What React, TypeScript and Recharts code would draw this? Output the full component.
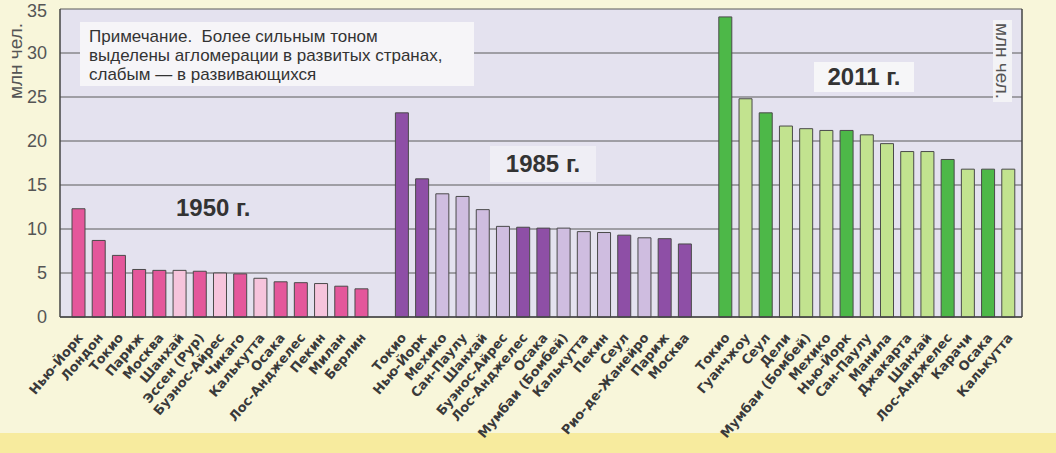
import { BarChart, Bar, XAxis, YAxis, CartesianGrid, Cell } from 'recharts';

// крупнейшие агломерации, млн чел.
const cities1950 = ['Нью-Йорк', 'Лондон', 'Токио', 'Париж', 'Москва', 'Шанхай', 'Эссен (Рур)', 'Буэнос-Айрес', 'Чикаго', 'Калькутта', 'Осака', 'Лос-Анджелес', 'Пекин', 'Милан', 'Берлин'];
const values1950 = [12.3, 8.7, 7.0, 5.4, 5.3, 5.3, 5.2, 5.0, 4.9, 4.4, 4.0, 3.9, 3.8, 3.5, 3.2];
const developed1950 = [true, true, true, true, true, false, true, false, true, false, true, true, false, true, true];

const cities1985 = ['Токио', 'Нью-Йорк', 'Мехико', 'Сан-Паулу', 'Шанхай', 'Буэнос-Айрес', 'Лос-Анджелес', 'Осака', 'Мумбаи (Бомбей)', 'Калькутта', 'Пекин', 'Сеул', 'Рио-де-Жанейро', 'Париж', 'Москва'];
const values1985 = [23.2, 15.7, 14.0, 13.7, 12.2, 10.3, 10.2, 10.1, 10.1, 9.7, 9.6, 9.3, 9.0, 8.9, 8.3];
const developed1985 = [true, true, false, false, false, false, true, true, false, false, false, true, false, true, true];

const cities2011 = ['Токио', 'Гуанчжоу', 'Сеул', 'Дели', 'Мумбаи (Бомбей)', 'Мехико', 'Нью-Йорк', 'Сан-Паулу', 'Манила', 'Джакарта', 'Шанхай', 'Лос-Анджелес', 'Карачи', 'Осака', 'Калькутта'];
const values2011 = [34.1, 24.8, 23.2, 21.7, 21.4, 21.2, 21.2, 20.7, 19.7, 18.8, 18.8, 17.9, 16.8, 16.8, 16.8];
const developed2011 = [true, false, true, false, false, false, true, false, false, false, false, true, false, true, false];

const yTicks = [0, 5, 10, 15, 20, 25, 30, 35];

const palette: Record<string, { dark: string; light: string }> = {
  '1950': { dark: '#e4579b', light: '#f6c4dc' },
  '1985': { dark: '#8e4fa6', light: '#cfbde0' },
  '2011': { dark: '#4db848', light: '#c2e38f' },
};

const groups = [
  { year: '1950', cities: cities1950, values: values1950, developed: developed1950 },
  { year: '1985', cities: cities1985, values: values1985, developed: developed1985 },
  { year: '2011', cities: cities2011, values: values2011, developed: developed2011 },
];

type Row = { id: string; name: string; value: number | null; year: string; developed: boolean };

const data: Row[] = [];
groups.forEach((g, gi) => {
  if (gi > 0) data.push({ id: `gap-${gi}`, name: '', value: null, year: '', developed: false });
  g.cities.forEach((c, i) => {
    data.push({ id: `${g.year}-${i}`, name: c, value: g.values[i], year: g.year, developed: g.developed[i] });
  });
});

const font = '"Liberation Sans", Arial, sans-serif';

const CityTick = ({ x, y, payload }: any) => {
  const row = data.find((d) => d.id === payload.value);
  if (!row || !row.name) return null;
  const tx = x + 2;
  const ty = y + 10;
  return (
    <text
      x={tx}
      y={ty}
      transform={`rotate(-50, ${tx}, ${ty})`}
      textAnchor="end"
      dy="0.35em"
      fontSize={13}
      fontWeight="bold"
      fill="#3a3a3a"
      fontFamily='"DejaVu Sans", sans-serif'
    >
      {row.name}
    </text>
  );
};

export default function App() {
  return (
    <div style={{ position: 'absolute', left: 0, top: 0, width: 1056, height: 453, background: '#f8f6da', fontFamily: font, overflow: 'hidden' }}>
      <div style={{ position: 'absolute', left: 0, top: 433, width: 1056, height: 20, background: '#f7eb9e' }} />
      <div style={{ position: 'absolute', left: 0, top: 0 }}>
        <BarChart width={1056} height={453} data={data} margin={{ top: 9, right: 0, left: 0, bottom: 0 }}>
          <CartesianGrid vertical={false} yAxisId="left" fill="#e4e2ef" stroke="#5a5a5a" strokeWidth={1} />
          <XAxis
            dataKey="id"
            interval={0}
            height={136}
            tick={<CityTick />}
            tickLine={false}
            axisLine={{ stroke: '#444', strokeWidth: 1.5 }}
            padding={{ left: 8, right: 4 }}
          />
          <YAxis
            yAxisId="left"
            width={60}
            domain={[0, 35]}
            ticks={yTicks}
            tickLine={false}
            tickMargin={7}
            axisLine={{ stroke: '#444', strokeWidth: 1.5 }}
            tick={{ fontSize: 18, fill: '#555', fontFamily: font }}
          />
          <YAxis
            yAxisId="right"
            orientation="right"
            width={34}
            domain={[0, 35]}
            ticks={yTicks}
            tickSize={5}
            tickMargin={5}
            tickLine={{ stroke: '#444' }}
            axisLine={{ stroke: '#444', strokeWidth: 1.5 }}
            tick={{ fontSize: 18, fill: '#555', fontFamily: font }}
          />
          <Bar yAxisId="left" dataKey="value" barSize={13} stroke="#4a4a4a" strokeWidth={1} isAnimationActive={false}>
            {data.map((d) => (
              <Cell key={d.id} fill={d.year ? (d.developed ? palette[d.year].dark : palette[d.year].light) : 'none'} />
            ))}
          </Bar>
        </BarChart>
      </div>

      <div style={{ position: 'absolute', left: 80, top: 22, width: 394, height: 64, background: '#f6f5f8', boxSizing: 'border-box', padding: '5px 0 0 9px', fontSize: 17, lineHeight: '19px', color: '#333' }}>
        <div>Примечание.&nbsp; Более сильным тоном</div>
        <div>выделены агломерации в развитых странах,</div>
        <div>слабым — в развивающихся</div>
      </div>

      <div style={{ position: 'absolute', left: 176, top: 194, fontSize: 24, fontWeight: 'bold', color: '#333', whiteSpace: 'nowrap' }}>1950 г.</div>
      <div style={{ position: 'absolute', left: 490, top: 146, width: 106, height: 36, background: '#efeef5', display: 'flex', alignItems: 'center', justifyContent: 'center', fontSize: 24, fontWeight: 'bold', color: '#333' }}>1985 г.</div>
      <div style={{ position: 'absolute', left: 814, top: 62, width: 100, height: 30, background: '#f6f6f8', display: 'flex', alignItems: 'center', justifyContent: 'center', fontSize: 24, fontWeight: 'bold', color: '#333' }}>2011 г.</div>

      <div style={{ position: 'absolute', left: 16, top: 61, transform: 'translate(-50%, -50%) rotate(-90deg)', fontSize: 19, color: '#555', whiteSpace: 'nowrap' }}>млн чел.</div>
      <div style={{ position: 'absolute', left: 993, top: 20, width: 19, height: 82, background: '#f3f3f6' }} />
      <div style={{ position: 'absolute', left: 1002, top: 61, transform: 'translate(-50%, -50%) rotate(90deg)', fontSize: 19, color: '#555', whiteSpace: 'nowrap' }}>млн чел.</div>
    </div>
  );
}
